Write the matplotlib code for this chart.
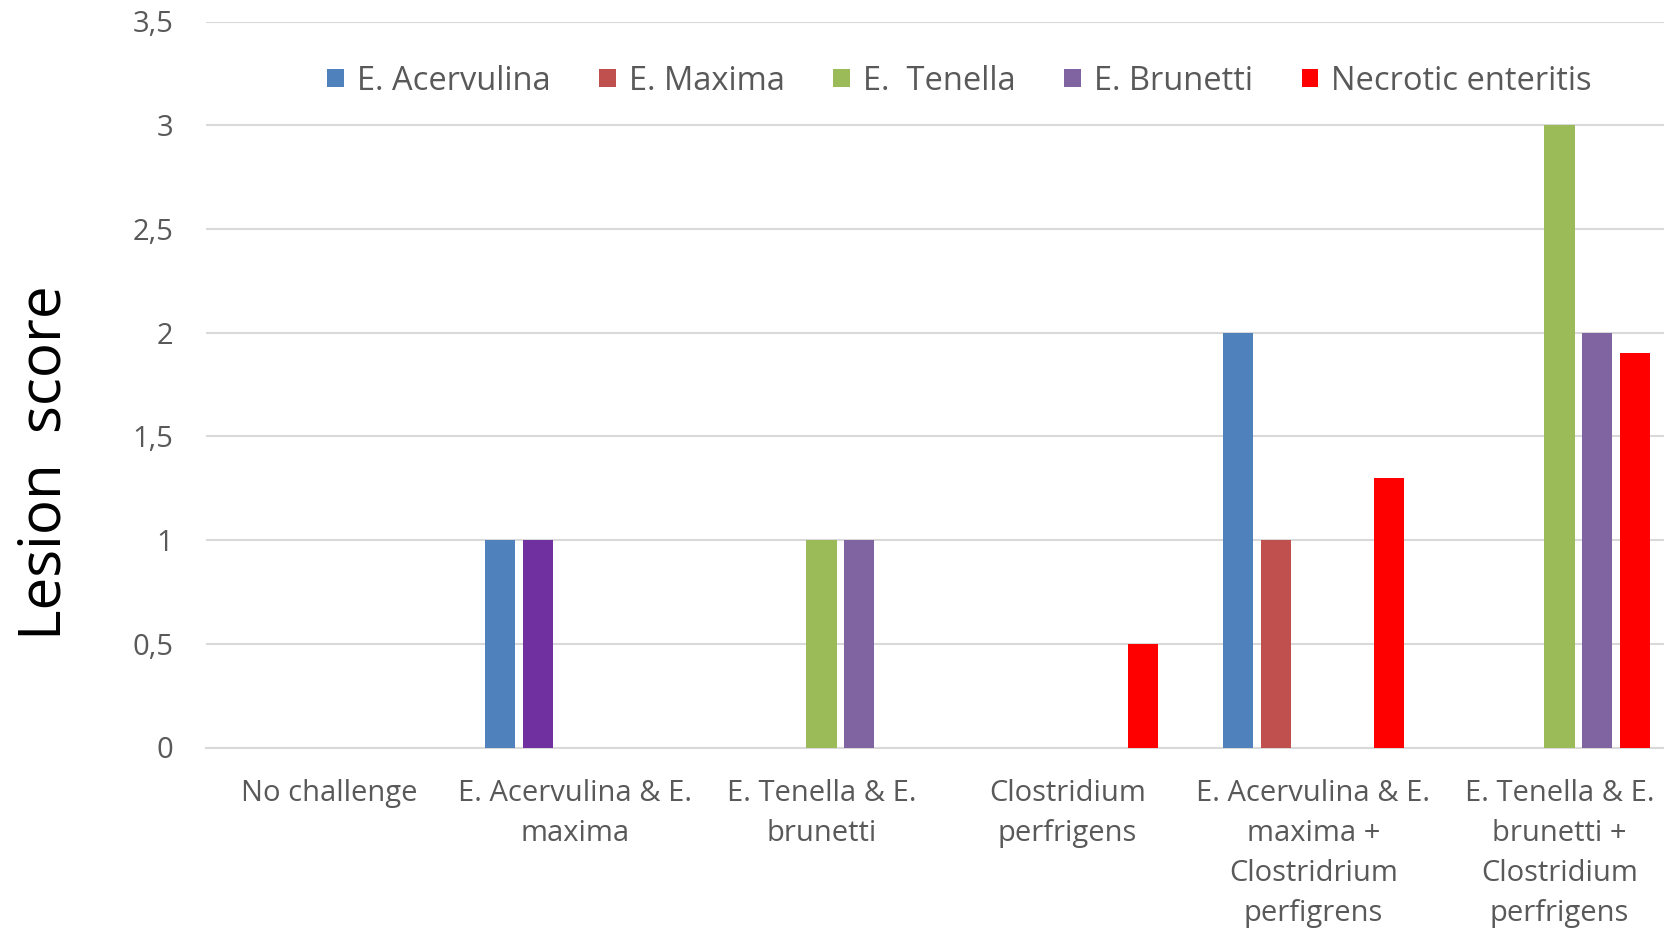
import matplotlib
matplotlib.use("Agg")
import matplotlib.pyplot as plt
import numpy as np
from matplotlib.patches import Patch
from matplotlib.ticker import FuncFormatter

categories = [
    "No challenge",
    "E. Acervulina & E.\nmaxima",
    "E. Tenella & E.\nbrunetti",
    "Clostridium\nperfrigens",
    "E. Acervulina & E.\nmaxima +\nClostridrium\nperfigrens",
    "E. Tenella & E.\nbrunetti +\nClostridium\nperfrigens",
]
series_names = ["E. Acervulina", "E. Maxima", "E.  Tenella", "E. Brunetti", "Necrotic enteritis"]
acervulina = [0, 1, 0, 0, 2, 0]
maxima = [0, 1, 0, 0, 1, 0]
tenella = [0, 0, 1, 0, 0, 3]
brunetti = [0, 0, 1, 0, 0, 2]
necrotic = [0, 0, 0, 0.5, 1.3, 1.9]
series_values = [acervulina, maxima, tenella, brunetti, necrotic]
series_colors = ["#4F81BD", "#C0504D", "#9BBB59", "#8064A2", "#FF0000"]
# the E. Maxima bar in the second group is highlighted in a darker purple
point_colors = {(1, 1): "#7030A0"}
yticks = [0, 0.5, 1, 1.5, 2, 2.5, 3, 3.5]

W, H = 1665, 932
fig = plt.figure(figsize=(W / 100, H / 100), dpi=100)
left, right, bottom, top = 206.5, 1665, 747.5, 21.5
ax = fig.add_axes([left / W, (H - bottom) / H, (right - left) / W, (bottom - top) / H])

font = "Open Sans"
grey = "#595959"
x = np.arange(len(categories))
width = 0.122
pitch = 0.153
for i, (vals, col) in enumerate(zip(series_values, series_colors)):
    cols = [point_colors.get((i, j), col) for j in range(len(vals))]
    ax.bar(x + (i - 2) * pitch, vals, width=width, color=cols, linewidth=0, zorder=3)

cat_width = 246.0
ax.set_xlim(-0.5, -0.5 + (right - left) / cat_width)
ax.set_ylim(0, 3.5)
ax.set_yticks(yticks)
ax.yaxis.set_major_formatter(FuncFormatter(lambda v, p: f"{v:g}".replace(".", ",")))
ax.set_xticks(x)
ax.set_xticklabels(categories, fontsize=21, color=grey, family=font, linespacing=1.5, va="top")
for lab in ax.get_yticklabels():
    lab.set_family(font)
    lab.set_fontsize(21)
    lab.set_color(grey)
ax.tick_params(axis="both", length=0)
ax.tick_params(axis="y", pad=24)
ax.tick_params(axis="x", pad=23)

ax.grid(axis="y", color="#D9D9D9", linewidth=1.5, zorder=0)
for s in ["top", "right", "left"]:
    ax.spines[s].set_visible(False)
ax.spines["bottom"].set_color("#D9D9D9")
ax.spines["bottom"].set_linewidth(1.5)

ax.set_ylabel("Lesion  score", fontsize=42, family=font, color="black")
ax.yaxis.set_label_coords(75 / W, (H - 463) / H, transform=fig.transFigure)

handles = [Patch(facecolor=c, edgecolor="none") for c in series_colors]
leg = fig.legend(handles, series_names, loc="center", ncol=5, frameon=False,
                 bbox_to_anchor=(959.5 / W, (H - 81) / H),
                 prop={"family": font, "size": 23.5},
                 handlelength=0.5, handleheight=0.5, handletextpad=0.4,
                 columnspacing=1.5)
for t in leg.get_texts():
    t.set_color(grey)

fig.savefig("out.png", dpi=100)
